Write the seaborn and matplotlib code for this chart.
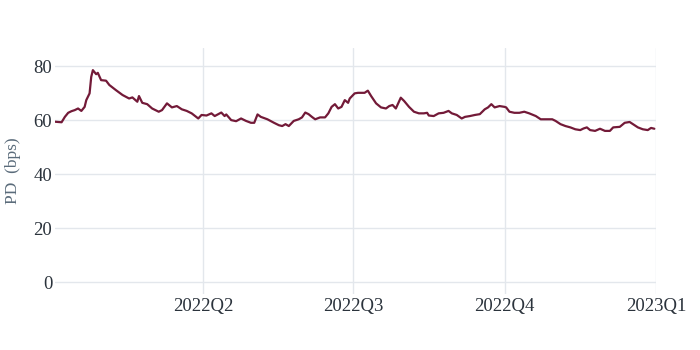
import matplotlib
matplotlib.use("Agg")
import matplotlib.pyplot as plt
import seaborn as sns
import pandas as pd

dates = [
    "2022-01-01", "2022-01-05", "2022-01-07", "2022-01-09", "2022-01-11", "2022-01-13",
    "2022-01-15", "2022-01-17", "2022-01-19", "2022-01-20", "2022-01-22", "2022-01-23",
    "2022-01-24", "2022-01-26", "2022-01-27", "2022-01-29", "2022-02-01", "2022-02-03",
    "2022-02-07", "2022-02-11", "2022-02-15", "2022-02-17", "2022-02-20", "2022-02-21",
    "2022-02-23", "2022-02-26", "2022-03-01", "2022-03-05", "2022-03-07", "2022-03-10",
    "2022-03-13", "2022-03-16", "2022-03-19", "2022-03-22", "2022-03-25", "2022-03-29",
    "2022-03-31", "2022-04-03", "2022-04-06", "2022-04-08", "2022-04-12", "2022-04-14",
    "2022-04-15", "2022-04-18", "2022-04-21", "2022-04-24", "2022-04-27", "2022-04-30",
    "2022-05-02", "2022-05-04", "2022-05-06", "2022-05-10", "2022-05-14", "2022-05-17",
    "2022-05-19", "2022-05-21", "2022-05-23", "2022-05-26", "2022-05-29", "2022-05-31",
    "2022-06-02", "2022-06-04", "2022-06-06", "2022-06-08", "2022-06-11", "2022-06-14",
    "2022-06-16", "2022-06-18", "2022-06-20", "2022-06-22", "2022-06-24", "2022-06-26",
    "2022-06-28", "2022-06-29", "2022-07-02", "2022-07-04", "2022-07-08", "2022-07-10",
    "2022-07-12", "2022-07-15", "2022-07-18", "2022-07-21", "2022-07-23", "2022-07-25",
    "2022-07-27", "2022-07-30", "2022-08-01", "2022-08-04", "2022-08-07", "2022-08-10",
    "2022-08-13", "2022-08-15", "2022-08-16", "2022-08-19", "2022-08-22", "2022-08-25",
    "2022-08-28", "2022-08-30", "2022-09-02", "2022-09-05", "2022-09-07", "2022-09-10",
    "2022-09-13", "2022-09-16", "2022-09-19", "2022-09-21", "2022-09-23", "2022-09-25",
    "2022-09-28", "2022-10-01", "2022-10-02", "2022-10-04", "2022-10-07", "2022-10-10",
    "2022-10-13", "2022-10-16", "2022-10-20", "2022-10-23", "2022-10-26", "2022-10-30",
    "2022-11-01", "2022-11-04", "2022-11-07", "2022-11-10", "2022-11-13", "2022-11-16",
    "2022-11-18", "2022-11-20", "2022-11-22", "2022-11-25", "2022-11-28", "2022-12-01",
    "2022-12-04", "2022-12-06", "2022-12-10", "2022-12-13", "2022-12-16", "2022-12-18",
    "2022-12-21", "2022-12-24", "2022-12-27", "2022-12-29", "2022-12-31",
]
pd_bps = [
    59.4, 59.2, 61.2, 62.7, 63.3, 63.7,
    64.3, 63.4, 64.9, 67.4, 69.9, 76.0,
    78.5, 77.0, 77.5, 74.8, 74.6, 73.0,
    71.1, 69.3, 68.0, 68.4, 66.8, 68.9,
    66.4, 65.9, 64.3, 63.1, 63.7, 66.2,
    64.7, 65.2, 64.0, 63.4, 62.5, 60.6,
    61.9, 61.7, 62.5, 61.5, 62.8, 61.5,
    62.1, 60.0, 59.6, 60.6, 59.7, 59.0,
    59.0, 62.1, 61.2, 60.3, 59.0, 58.1,
    57.8, 58.5, 57.8, 59.7, 60.3, 61.0,
    62.8, 62.2, 61.2, 60.3, 61.0, 61.0,
    62.5, 64.9, 65.9, 64.3, 64.9, 67.4,
    66.4, 68.0, 69.9, 70.1, 70.1, 70.9,
    68.9, 66.2, 64.7, 64.3, 65.2, 65.6,
    64.3, 68.3, 67.1, 64.9, 63.1, 62.5,
    62.5, 62.7, 61.7, 61.5, 62.5, 62.7,
    63.4, 62.5, 61.9, 60.6, 61.2, 61.5,
    61.9, 62.2, 64.0, 64.7, 65.9, 64.7,
    65.2, 64.9, 64.7, 63.1, 62.7, 62.7,
    63.1, 62.5, 61.5, 60.3, 60.3, 60.3,
    59.7, 58.5, 57.8, 57.3, 56.6, 56.3,
    56.9, 57.3, 56.3, 56.0, 56.8, 56.0,
    56.0, 57.3, 57.5, 59.0, 59.3, 58.5,
    57.3, 56.6, 56.3, 57.1, 56.8,
]
tick_dates = ["2022-04-01", "2022-07-01", "2022-10-01", "2023-01-01"]
tick_labels = ["2022Q2", "2022Q3", "2022Q4", "2023Q1"]
y_ticks = [0, 20, 40, 60, 80]
y_label = "PD  (bps)"

sns.set_style("white")
plt.rcParams["font.family"] = ["Liberation Serif", "DejaVu Serif"]

df = pd.DataFrame({"date": pd.to_datetime(dates), "pd": pd_bps})

fig = plt.figure(figsize=(7, 3.5), dpi=100)
ax = fig.add_axes([55 / 700, 56 / 350, 601 / 700, 246 / 350])

sns.lineplot(data=df, x="date", y="pd", ax=ax, color="#731a38", linewidth=1.6)

ax.set_xlim(pd.Timestamp("2022-01-01"), pd.Timestamp("2023-01-01"))
ax.set_ylim(-4.4, 86.7)
ax.set_xticks(pd.to_datetime(tick_dates))
ax.set_xticklabels(tick_labels)
ax.set_yticks(y_ticks)
ax.set_yticklabels([str(v) for v in y_ticks])

ax.grid(True, color="#e3e7ec", linewidth=1.0)
ax.set_axisbelow(True)
for s in ax.spines.values():
    s.set_visible(False)

ax.tick_params(axis="both", length=0, labelsize=13.5, labelcolor="#2b333c")
ax.tick_params(axis="y", pad=2)
ax.tick_params(axis="x", pad=3)
ax.set_xlabel("")
ax.set_ylabel(y_label, fontsize=12.5, color="#5a6b7a")
ax.yaxis.set_label_coords(-0.056, 0.5)

fig.savefig("out.png", dpi=100, facecolor="white")
